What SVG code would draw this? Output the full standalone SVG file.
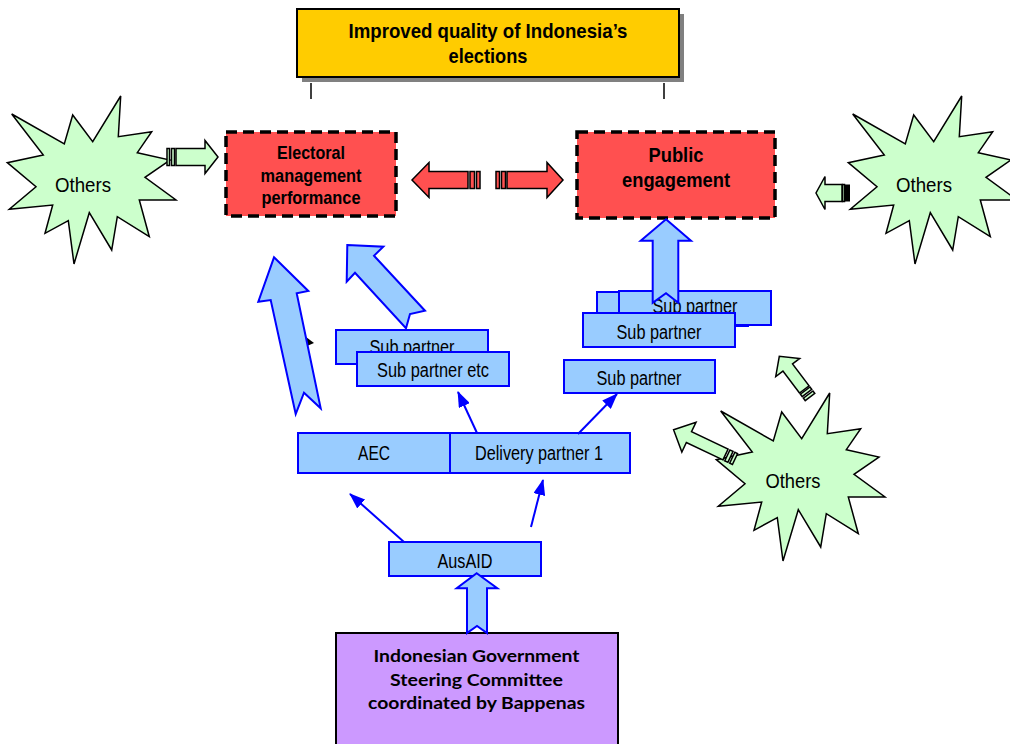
<svg xmlns="http://www.w3.org/2000/svg" width="1010" height="744" viewBox="0 0 1010 744">
  <style>
    .t{font-family:"Liberation Sans",Arial,sans-serif;fill:#000;text-anchor:middle}
    .b{font-weight:bold}
    .lbl{font-size:19.5px}
    .box{fill:#99CCFF;stroke:#0000FF;stroke-width:2}
    .red{fill:#FF5050;stroke:#000;stroke-width:3.5;stroke-dasharray:11 6}
    .blk{fill:#99CCFF;stroke:#0000FF;stroke-width:2;stroke-linejoin:miter}
    .grn{fill:#CCFFCC;stroke:#000;stroke-width:1.5}
    .rarr{fill:#FF5050;stroke:#000;stroke-width:1.5}
    .conn{stroke:#0000FF;stroke-width:2;fill:none;marker-end:url(#ah)}
    .cal{font-family:Lato,"Open Sans",sans-serif;font-weight:bold;font-size:17px;fill:#000;text-anchor:middle}
  </style>
  <defs>
    <marker id="ah" markerWidth="16" markerHeight="12" refX="15" refY="6" orient="auto" markerUnits="userSpaceOnUse">
      <path d="M0,0 L16,6 L0,12 z" fill="#0000FF"/>
    </marker>
    <!-- twelve-spike burst used for the "Others" nodes -->
    <polygon id="burst" fill="#CCFFCC" stroke="#000" stroke-width="1.5" stroke-linejoin="miter"
      points="11.7,114 64.3,144 72.7,115 92.7,141.7 120.7,96 118.3,136.7 151.7,131.7 137.3,152.7 170,160 145,177.3 176,200 139.3,200 149.3,236.7 117.3,216.7 111.7,250 89.3,212.7 74,264 68.3,220.7 45,233.3 52.7,205 9.3,209.3 36,186.7 7.3,162.7 43.3,155"/>
  </defs>

  <!-- outcome -->
  <g id="goal">
    <rect x="302" y="14" width="382" height="68" fill="#808080"/>
    <rect x="297" y="9" width="382" height="68" fill="#FFCC00" stroke="#000" stroke-width="2"/>
    <text class="t b" x="488" y="38" font-size="21" textLength="279" lengthAdjust="spacingAndGlyphs">Improved quality of Indonesia’s</text>
    <text class="t b" x="488" y="63" font-size="21" textLength="79" lengthAdjust="spacingAndGlyphs">elections</text>
    <line x1="311" y1="83" x2="311" y2="99" stroke="#000" stroke-width="1.5"/>
    <line x1="664" y1="83" x2="664" y2="99" stroke="#000" stroke-width="1.5"/>
  </g>

  <g id="electoral">
    <rect class="red" x="226" y="132" width="170" height="84"/>
    <text class="t b" x="311" y="159" font-size="18.5" textLength="68" lengthAdjust="spacingAndGlyphs">Electoral</text>
    <text class="t b" x="311" y="181.5" font-size="18.5" textLength="101" lengthAdjust="spacingAndGlyphs">management</text>
    <text class="t b" x="311" y="204" font-size="18.5" textLength="99" lengthAdjust="spacingAndGlyphs">performance</text>
  </g>

  <g id="public">
    <rect class="red" x="577" y="132" width="198" height="86"/>
    <text class="t b" x="676" y="162" font-size="21" textLength="55" lengthAdjust="spacingAndGlyphs">Public</text>
    <text class="t b" x="676" y="187" font-size="21" textLength="108" lengthAdjust="spacingAndGlyphs">engagement</text>
  </g>

  <g id="others-left">
    <use href="#burst"/>
    <text class="t" x="83" y="192" font-size="21" textLength="56" lengthAdjust="spacingAndGlyphs">Others</text>
  </g>
  <g id="others-right">
    <use href="#burst" transform="translate(841,0)"/>
    <text class="t" x="924" y="192" font-size="21" textLength="56" lengthAdjust="spacingAndGlyphs">Others</text>
  </g>
  <g id="others-bottom">
    <use href="#burst" transform="translate(709,297)"/>
    <text class="t" x="793" y="488" font-size="21" textLength="55" lengthAdjust="spacingAndGlyphs">Others</text>
  </g>

  <g id="sub-partner-a">
    <rect class="box" x="336" y="330" width="152" height="34"/>
    <text class="t lbl" x="412" y="354" textLength="85" lengthAdjust="spacingAndGlyphs">Sub partner</text>
  </g>
  <g id="sub-partner-etc">
    <rect class="box" x="357" y="352" width="152" height="34"/>
    <text class="t lbl" x="433" y="377" textLength="112" lengthAdjust="spacingAndGlyphs">Sub partner etc</text>
  </g>

  <g id="sub-partner-b">
    <rect class="box" x="597" y="292" width="151" height="34"/>
  </g>
  <g id="sub-partner-c">
    <rect class="box" x="619" y="291" width="152" height="34"/>
    <text class="t lbl" x="695" y="313" textLength="85" lengthAdjust="spacingAndGlyphs">Sub partner</text>
  </g>
  <g id="sub-partner-d">
    <rect class="box" x="583" y="313" width="152" height="34"/>
    <text class="t lbl" x="659" y="339" textLength="85" lengthAdjust="spacingAndGlyphs">Sub partner</text>
  </g>
  <g id="sub-partner-e">
    <rect class="box" x="564" y="360" width="151" height="33"/>
    <text class="t lbl" x="639" y="385" textLength="85" lengthAdjust="spacingAndGlyphs">Sub partner</text>
  </g>

  <g id="aec">
    <rect class="box" x="298" y="433" width="152" height="40"/>
    <text class="t lbl" x="374" y="459.5" textLength="32" lengthAdjust="spacingAndGlyphs">AEC</text>
  </g>
  <g id="delivery-partner">
    <rect class="box" x="450" y="433" width="180" height="40"/>
    <text class="t lbl" x="539" y="459.5" textLength="128" lengthAdjust="spacingAndGlyphs">Delivery partner 1</text>
  </g>

  <g id="ausaid">
    <rect class="box" x="389" y="542" width="152" height="34"/>
    <text class="t lbl" x="465" y="568" textLength="55" lengthAdjust="spacingAndGlyphs">AusAID</text>
  </g>

  <g id="steering-committee">
    <rect x="336" y="633" width="282" height="120" fill="#CC99FF" stroke="#000" stroke-width="2"/>
    <text class="cal" x="476.5" y="662" textLength="206" lengthAdjust="spacingAndGlyphs">Indonesian Government</text>
    <text class="cal" x="476.5" y="686" textLength="173" lengthAdjust="spacingAndGlyphs">Steering Committee</text>
    <text class="cal" x="476.5" y="708.5" textLength="217" lengthAdjust="spacingAndGlyphs">coordinated by Bappenas</text>
  </g>

  <g id="connectors">
    <!-- thin funding links -->
    <line class="conn" x1="404" y1="542" x2="350" y2="494"/>
    <line class="conn" x1="531" y1="527" x2="543" y2="480"/>
    <line class="conn" x1="477" y1="433" x2="458" y2="392"/>
    <line class="conn" x1="578" y1="434" x2="617" y2="394"/>

    <!-- stray arrowhead under the large arrow -->
    <polygon points="306,337 314,343 307,346" fill="#000"/>

    <!-- notched block arrows -->
    <polygon class="blk" points="274,257.3 308.3,291 296.7,293.3 320.7,408.3 304,392.7 295.7,414 270.7,300 258.3,301.7"/>
    <polygon class="blk" points="347.3,245 383.3,246.7 374,255.7 425,310.7 410,314 406,328.3 355,272.7 346.7,281.7"/>
    <polygon class="blk" points="666,219.3 691,240.7 678.3,240.7 678.3,302.7 666,293.3 652.7,302.7 652.7,240.7 640.7,240.7"/>
    <polygon class="blk" points="476.7,573.3 497.3,588.3 487,588.3 487,633 477,626 467,633 467,588.3 456.7,588.3"/>

    <!-- striped block arrows between the result areas -->
    <g transform="translate(480,180) scale(-1,1)">
      <rect class="rarr" x="0" y="-8.5" width="3.5" height="17"/>
      <rect class="rarr" x="5.5" y="-8.5" width="4.5" height="17"/>
      <polygon class="rarr" points="12,-8.5 51,-8.5 51,-17.5 68,0 51,17.5 51,8.5 12,8.5"/>
    </g>
    <g transform="translate(496,180)">
      <rect class="rarr" x="0" y="-8.5" width="3.5" height="17"/>
      <rect class="rarr" x="5.5" y="-8.5" width="4" height="17"/>
      <polygon class="rarr" points="11,-8.5 51,-8.5 51,-17.5 67,0 51,17.5 51,8.5 11,8.5"/>
    </g>

    <!-- striped block arrows from the outside influences -->
    <g transform="translate(167,157)">
      <rect class="grn" x="0" y="-8.5" width="2.5" height="17"/>
      <rect class="grn" x="4.5" y="-8.5" width="3" height="17"/>
      <polygon class="grn" points="9,-8.5 38,-8.5 38,-16.5 51,0 38,16.5 38,8.5 9,8.5"/>
    </g>
    <g transform="translate(850,193) scale(-1,1)">
      <rect x="0" y="-8.5" width="5" height="17" fill="#000"/>
      <rect class="grn" x="5.5" y="-8.5" width="2" height="17"/>
      <polygon class="grn" points="8,-8.5 25,-8.5 25,-16.5 34,0 25,16.5 25,8.5 8,8.5"/>
    </g>
    <g transform="translate(810,397) rotate(233)">
      <rect class="grn" x="0" y="-6" width="3" height="12"/>
      <rect class="grn" x="5" y="-6" width="3" height="12"/>
      <polygon class="grn" points="9.5,-6 37,-6 37,-15 51,0 37,15 37,6 9.5,6"/>
    </g>
    <g transform="translate(735,459) rotate(205.4)">
      <rect class="grn" x="0" y="-6" width="3" height="12"/>
      <rect class="grn" x="5" y="-6" width="3.5" height="12"/>
      <polygon class="grn" points="10.5,-6 51,-6 51,-16.5 68,0 51,16.5 51,6 10.5,6"/>
    </g>
  </g>
</svg>
